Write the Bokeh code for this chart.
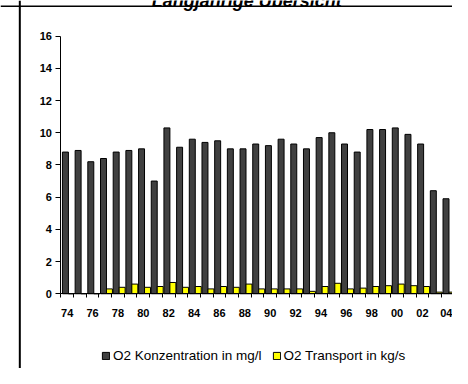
from bokeh.plotting import figure
from bokeh.models import (Range1d, LinearAxis, FixedTicker, Span, Legend,
                          LegendItem, ColumnDataSource, Label)
from bokeh.embed import file_html
from bokeh.resources import INLINE

# ---- data ----
title_text = "Langjährige Übersicht"
years = ["74", "75", "76", "77", "78", "79", "80", "81", "82", "83", "84",
         "85", "86", "87", "88", "89", "90", "91", "92", "93", "94", "95",
         "96", "97", "98", "99", "00", "01", "02", "03", "04"]
concentration = [8.8, 8.9, 8.2, 8.4, 8.8, 8.9, 9.0, 7.0, 10.3, 9.1, 9.6,
                 9.4, 9.5, 9.0, 9.0, 9.3, 9.2, 9.6, 9.3, 9.0, 9.7, 10.0,
                 9.3, 8.8, 10.2, 10.2, 10.3, 9.9, 9.3, 6.4, 5.9]
transport = [0.0, 0.0, 0.0, 0.3, 0.4, 0.6, 0.4, 0.45, 0.7, 0.4, 0.45,
             0.3, 0.45, 0.4, 0.6, 0.3, 0.3, 0.3, 0.3, 0.15, 0.45, 0.65,
             0.3, 0.35, 0.45, 0.5, 0.6, 0.5, 0.45, 0.1, 0.1]
series_labels = ["O2 Konzentration in mg/l", "O2 Transport in kg/s"]
y_ticks = [0, 2, 4, 6, 8, 10, 12, 14, 16]

# ---- layout geometry ----
W, H = 452, 368
SX, SY = W / 468.0, H / 384.0      # fit the 468x384 picture into the page
AX_X = 62.5 * SX                   # pixel column of the value axis
CAT_W = 13.135 * SX                # pixel width of one year category
Y0 = 306.0 * SY                    # pixel row of value 0
PX_PER_UNIT = 16.8 * SY            # pixels per value unit

x_range = Range1d(-AX_X / CAT_W, (W - AX_X) / CAT_W)
y_range = Range1d(-(H - Y0) / PX_PER_UNIT, Y0 / PX_PER_UNIT)


def px_to_x(px):
    return (px - AX_X) / CAT_W


def py_to_y(py):
    return (Y0 - py) / PX_PER_UNIT


p = figure(width=W, height=H, x_range=x_range, y_range=y_range,
           output_backend="svg", toolbar_location=None,
           x_axis_type=None, y_axis_type=None, min_border=0)
p.outline_line_color = None
p.background_fill_color = "white"
p.border_fill_color = "white"

idx = list(range(len(years)))
src = ColumnDataSource(dict(
    xc=[i + 0.36 for i in idx],
    xt=[i + 0.83 for i in idx],
    conc=concentration,
    trans=transport,
))

r_conc = p.vbar(x="xc", top="conc", bottom=0, width=0.47, source=src,
                fill_color="#404040", line_color="black", line_width=1)
r_trans = p.vbar(x="xt", top="trans", bottom=0, width=0.47, source=src,
                 fill_color="#FFFF00", line_color="black", line_width=1)

FONT = "Liberation Sans"

yaxis = LinearAxis(fixed_location=0, bounds=(0, 16),
                   ticker=FixedTicker(ticks=y_ticks))
yaxis.axis_line_color = "black"
yaxis.major_tick_line_color = "black"
yaxis.major_tick_out = 5
yaxis.major_tick_in = 0
yaxis.minor_tick_line_color = None
yaxis.major_label_standoff = 4
yaxis.major_label_text_font = FONT
yaxis.major_label_text_font_style = "bold"
yaxis.major_label_text_font_size = "11px"
yaxis.major_label_text_color = "black"
p.add_layout(yaxis, "left")

label_pos = [i + 0.5 for i in idx if i % 2 == 0]
xaxis = LinearAxis(fixed_location=0, bounds=(0, len(years)),
                   ticker=FixedTicker(ticks=label_pos,
                                      minor_ticks=list(range(len(years) + 1))))
xaxis.major_label_overrides = {i + 0.5: years[i] for i in idx if i % 2 == 0}
xaxis.axis_line_color = "black"
xaxis.major_tick_line_color = None
xaxis.minor_tick_line_color = "black"
xaxis.minor_tick_out = 4
xaxis.minor_tick_in = 0
xaxis.major_label_standoff = 9
xaxis.major_label_text_font = FONT
xaxis.major_label_text_font_style = "bold"
xaxis.major_label_text_font_size = "11px"
xaxis.major_label_text_color = "black"
p.add_layout(xaxis, "below")

# chart-area borders (left and top)
p.add_layout(Span(location=px_to_x(20 * SX), dimension="height",
                  line_color="black", line_width=2))
p.add_layout(Span(location=py_to_y(6 * SY), dimension="width",
                  line_color="black", line_width=1.5))

# title, cut by the top edge as in the reference
p.add_layout(Label(x=px_to_x(255 * SX), y=py_to_y(1.0 * SY), text=title_text,
                   text_align="center", text_baseline="alphabetic",
                   text_font=FONT, text_font_style="bold italic",
                   text_font_size="18px", text_color="black"))

legend = Legend(items=[LegendItem(label=series_labels[0], renderers=[r_conc]),
                       LegendItem(label=series_labels[1], renderers=[r_trans])],
                orientation="horizontal", location=(101, 5),
                padding=0, margin=0, border_line_color=None,
                background_fill_alpha=0, glyph_width=9, glyph_height=9,
                label_standoff=3, spacing=10, label_height=14,
                label_text_font=FONT, label_text_font_size="13.5px",
                label_text_color="black")
p.add_layout(legend)

open("out.html", "w").write(file_html(p, INLINE))
